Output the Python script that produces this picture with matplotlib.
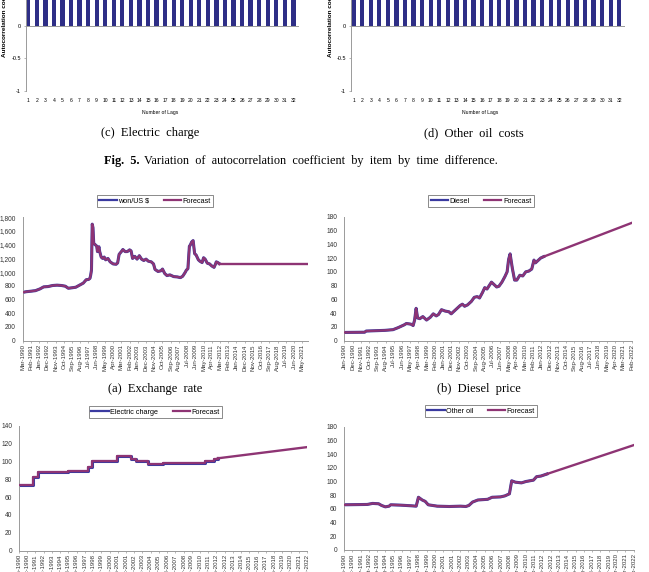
import matplotlib
matplotlib.use('Agg')
import matplotlib.pyplot as plt
from matplotlib.lines import Line2D

W, H = 649, 572
fig = plt.figure(figsize=(6.49, 5.72), dpi=100)

SANS = ['Liberation Sans', 'DejaVu Sans']
SERIF = ['Liberation Serif', 'DejaVu Serif']
MON = ['Jan', 'Feb', 'Mar', 'Apr', 'May', 'Jun', 'Jul', 'Aug', 'Sep', 'Oct', 'Nov', 'Dec']

# ---------------- data ----------------
lags = list(range(1, 33))
acf_electric = [0.99, 0.98, 0.97, 0.96, 0.95, 0.94, 0.93, 0.92, 0.91, 0.90, 0.89, 0.88,
                0.87, 0.86, 0.85, 0.84, 0.83, 0.82, 0.81, 0.80, 0.79, 0.78, 0.77, 0.76,
                0.75, 0.74, 0.73, 0.72, 0.71, 0.70, 0.69, 0.68]
acf_otheroil = [0.98, 0.96, 0.94, 0.92, 0.90, 0.89, 0.88, 0.87, 0.86, 0.85, 0.84, 0.83,
                0.82, 0.81, 0.80, 0.79, 0.78, 0.77, 0.76, 0.75, 0.74, 0.73, 0.72, 0.71,
                0.70, 0.69, 0.68, 0.67, 0.66, 0.65, 0.64, 0.63]

exr_dates = ['1990-03', '1990-08', '1991-02', '1991-08', '1992-02', '1992-07', '1993-01', '1993-07',
             '1994-01', '1994-07', '1994-12', '1995-04', '1995-09', '1996-02', '1996-07', '1996-12',
             '1997-04', '1997-07', '1997-09', '1997-10', '1997-11', '1997-12', '1998-01', '1998-02',
             '1998-04', '1998-06', '1998-07', '1998-09', '1998-10', '1998-12', '1999-02', '1999-04',
             '1999-06', '1999-09', '1999-12', '2000-04', '2000-08', '2000-10', '2000-12', '2001-03',
             '2001-05', '2001-08', '2001-11', '2002-02', '2002-04', '2002-06', '2002-09', '2002-12',
             '2003-03', '2003-06', '2003-09', '2003-12', '2004-03', '2004-07', '2004-10', '2004-12',
             '2005-04', '2005-08', '2005-10', '2006-01', '2006-04', '2006-08', '2007-01', '2007-06',
             '2007-10', '2008-01', '2008-04', '2008-06', '2008-08', '2008-10', '2008-11', '2009-01',
             '2009-03', '2009-05', '2009-07', '2009-10', '2009-12', '2010-03', '2010-05', '2010-07',
             '2010-10', '2011-01', '2011-04', '2011-07', '2011-09', '2011-10', '2011-12', '2012-02']
exr_values = [705, 715, 722, 730, 755, 785, 790, 805,
              810, 805, 795, 765, 772, 780, 810, 840,
              890, 893, 910, 960, 1030, 1700, 1650, 1420,
              1400, 1380, 1300, 1370, 1300, 1220, 1200, 1220,
              1180, 1200, 1150, 1120, 1115, 1135, 1260, 1300,
              1330, 1300, 1300, 1325, 1310, 1200, 1230, 1190,
              1240, 1190, 1170, 1190, 1160, 1150, 1120, 1040,
              1010, 1020, 1045, 980, 950, 960, 935, 930,
              920, 940, 990, 1030, 1050, 1380, 1390, 1440,
              1460, 1270, 1250, 1180, 1160, 1140, 1210, 1190,
              1130, 1120, 1090, 1070, 1120, 1150, 1140, 1125]
exr_fc_dates = ['2012-02', '2021-12']
exr_fc_values = [1125, 1125]
exr_ticklabels = ['Mar-1990', 'Feb-1991', 'Jan-1992', 'Dec-1992', 'Nov-1993', 'Oct-1994', 'Sep-1995',
                  'Aug-1996', 'Jul-1997', 'Jun-1998', 'May-1999', 'Apr-2000', 'Mar-2001', 'Feb-2002',
                  'Jan-2003', 'Dec-2003', 'Nov-2004', 'Oct-2005', 'Sep-2006', 'Aug-2007', 'Jul-2008',
                  'Jun-2009', 'May-2010', 'Apr-2011', 'Mar-2012', 'Feb-2013', 'Jan-2014', 'Dec-2014',
                  'Nov-2015', 'Oct-2016', 'Sep-2017', 'Aug-2018', 'Jul-2019', 'Jun-2020', 'May-2021']

diesel_dates = ['1990-01', '1992-04', '1992-06', '1994-07', '1995-06', '1996-01', '1996-09', '1996-12',
                '1997-06', '1997-09', '1997-11', '1998-01', '1998-03', '1998-06', '1998-10', '1999-03',
                '1999-08', '1999-12', '2000-04', '2000-07', '2000-11', '2001-04', '2001-09', '2001-12',
                '2002-04', '2002-08', '2002-12', '2003-03', '2003-06', '2003-10', '2004-03', '2004-07',
                '2004-11', '2005-02', '2005-06', '2005-09', '2005-12', '2006-03', '2006-06', '2006-09',
                '2007-01', '2007-04', '2007-08', '2007-12', '2008-03', '2008-05', '2008-07', '2008-10',
                '2009-01', '2009-04', '2009-08', '2009-12', '2010-04', '2010-08', '2010-12', '2011-03',
                '2011-05', '2011-08', '2011-12', '2012-04']
diesel_values = [12, 12.3, 14, 15, 16, 19, 23, 25,
                 24, 22, 30, 47, 33, 32, 35, 30,
                 34, 39, 36, 38, 45, 43, 42, 39,
                 43, 47, 51, 53, 50, 52, 57, 63,
                 64, 62, 70, 77, 75, 80, 85, 82,
                 78, 79, 85, 93, 100, 118, 126, 105,
                 88, 88, 95, 94, 100, 101, 104, 117,
                 113, 116, 120, 122]
diesel_fc_dates = ['2012-04', '2022-02']
diesel_fc_values = [122, 171]
ticklabels_2022 = ['Jan-1990', 'Dec-1990', 'Nov-1991', 'Oct-1992', 'Sep-1993', 'Aug-1994', 'Jul-1995',
                   'Jun-1996', 'May-1997', 'Apr-1998', 'Mar-1999', 'Feb-2000', 'Jan-2001', 'Dec-2001',
                   'Nov-2002', 'Oct-2003', 'Sep-2004', 'Aug-2005', 'Jul-2006', 'Jun-2007', 'May-2008',
                   'Apr-2009', 'Mar-2010', 'Feb-2011', 'Jan-2012', 'Dec-2012', 'Nov-2013', 'Oct-2014',
                   'Sep-2015', 'Aug-2016', 'Jul-2017', 'Jun-2018', 'May-2019', 'Apr-2020', 'Mar-2021',
                   'Feb-2022']

elec_dates = ['1990-01', '1991-08', '1992-03', '1995-06', '1997-09', '1998-03', '2000-12', '2002-07',
              '2003-01', '2004-06', '2006-02', '2010-10', '2011-10', '2012-03']
elec_values = [74, 83, 88, 89, 94, 100, 106, 103, 100, 97, 98.5, 101, 103, 103.5]
elec_fc_dates = ['2012-03', '2022-02']
elec_fc_values = [103.5, 116]

oil_dates = ['1990-01', '1992-08', '1993-03', '1993-11', '1994-03', '1994-08', '1995-01', '1995-03',
             '1996-04', '1997-07', '1998-01', '1998-04', '1998-09', '1999-01', '1999-05', '1999-11',
             '2000-05', '2001-09', '2002-12', '2003-07', '2003-11', '2004-04', '2004-11', '2005-12',
             '2006-06', '2007-05', '2007-11', '2008-05', '2008-08', '2009-01', '2009-09', '2010-03',
             '2011-01', '2011-05', '2011-11', '2012-07']
oil_values = [66, 66.5, 68, 67.5, 65, 63, 64, 66,
              65.5, 64.5, 64, 77, 73, 71, 66, 65,
              64, 63.5, 64, 63.5, 65, 70, 73, 74,
              77, 77.5, 79, 82, 101, 99, 98, 100,
              102, 107, 108, 111]
oil_fc_dates = ['2012-07', '2022-02']
oil_fc_values = [111, 153]

C_ACT = '#3A3AA0'
C_FC = '#8E3474'
C_BAR = '#2E2E86'
C_AX = '#9A9A9A'


def ax_px(l, r, t, b):
    return fig.add_axes([l / W, 1 - b / H, (r - l) / W, (b - t) / H])


def ftext(x, y, s, **kw):
    return fig.text(x / W, 1 - y / H, s, **kw)


def midx(s, base):
    y, m = map(int, s.split('-'))
    return (y - base[0]) * 12 + (m - base[1])


def lidx(lab, base):
    mon, yr = lab.split('-')
    return (int(yr) - base[0]) * 12 + MON.index(mon) + 1 - base[1]


# ---------------- autocorrelation bar charts ----------------
def bar_chart(l, r, vals, ylab_x, lagtext_x):
    ax = ax_px(l, r, -39.3, 90.7)
    ax.bar(lags, vals, width=0.5, color=C_BAR, zorder=2)
    ax.set_xlim(0.7, 32.6)
    ax.set_ylim(-1, 1)
    ax.axhline(0, color=C_AX, lw=0.7, zorder=3)
    for s in ['top', 'right', 'bottom']:
        ax.spines[s].set_visible(False)
    ax.spines['left'].set_color(C_AX)
    ax.spines['left'].set_linewidth(0.7)
    ax.set_yticks([-1, -0.5, 0, 0.5, 1])
    ax.set_yticklabels(['-1', '-0.5', '0', '0.5', '1'], fontsize=4, family=SANS)
    ax.tick_params(axis='y', length=1.5, width=0.5, color=C_AX, pad=2)
    ax.set_xticks(lags)
    ax.set_xticklabels([str(v) for v in lags], fontsize=3.6, family=SANS)
    ax.tick_params(axis='x', length=0, pad=5)
    ftext(lagtext_x, 112.5, 'Number of Lags', fontsize=3.6, family=SANS, ha='center', va='center')
    ftext(ylab_x, 57, 'Autocorrelation coefficient', fontsize=4.6, family=SANS,
          fontweight='bold', rotation=90, ha='center', va='bottom')


bar_chart(25.7, 298.5, acf_electric, 5, 160)
bar_chart(351, 624.5, acf_otheroil, 330, 480)

ftext(150, 133, '(c)  Electric  charge', fontsize=9, family=SERIF, ha='center', va='center')
ftext(474, 133, '(d)  Other  oil  costs', fontsize=9, family=SERIF, ha='center', va='center')

t1 = ftext(104, 161, 'Fig.  5.', fontsize=8.8, family=SERIF, fontweight='bold', ha='left', va='center')
fig.canvas.draw()
bb = t1.get_window_extent(renderer=fig.canvas.get_renderer())
ftext(bb.x1 + 5, 161, 'Variation  of  autocorrelation  coefficient  by  item  by  time  difference.',
      fontsize=8.8, family=SERIF, ha='left', va='center')


# ---------------- time-series charts ----------------
def line_chart(box, base, xmax, ymax, ystep, comma, hd, hv, fd, fv, tlabs, leg_c, name, steps=False):
    l, r, t, b = box
    ax = ax_px(l, r, t, b)
    hx = [midx(d, base) for d in hd]
    fx = [midx(d, base) for d in fd]
    ds = 'steps-post' if steps else 'default'
    ax.plot(hx, hv, color=C_ACT, lw=2.2, drawstyle=ds, solid_joinstyle='round', zorder=2)
    ax.plot(hx, hv, color=C_FC, lw=1.6, drawstyle=ds, solid_joinstyle='round', zorder=3)
    ax.plot(fx, fv, color=C_FC, lw=1.7, zorder=3)
    ax.set_xlim(0, xmax)
    ax.set_ylim(0, ymax)
    for s in ['top', 'right']:
        ax.spines[s].set_visible(False)
    for s in ['left', 'bottom']:
        ax.spines[s].set_color(C_AX)
        ax.spines[s].set_linewidth(0.7)
    yt = list(range(0, ymax + 1, ystep))
    ax.set_yticks(yt)
    ax.set_yticklabels([f'{v:,}' if comma else str(v) for v in yt], fontsize=4.8, family=SANS,
                       color='#333333')
    ax.tick_params(axis='y', length=0, pad=5)
    ax.set_xticks([lidx(s, base) for s in tlabs])
    ax.set_xticklabels(tlabs, rotation=90, fontsize=4.4, family=SANS, color='#333333')
    ax.tick_params(axis='x', length=1.5, width=0.5, color=C_AX, pad=1)
    handles = [Line2D([], [], color=C_ACT, lw=1.6), Line2D([], [], color=C_FC, lw=1.6)]
    leg = fig.legend(handles, [name, 'Forecast'], loc='center',
                     bbox_to_anchor=(leg_c[0] / W, 1 - leg_c[1] / H), ncol=2,
                     frameon=True, fancybox=False, edgecolor='#555555', handlelength=2.4,
                     handletextpad=0.2, columnspacing=2.0, borderpad=0.35,
                     prop={'family': SANS, 'size': 5.2})
    leg.get_frame().set_linewidth(0.6)
    return ax


line_chart((22.7, 307.5, 217.3, 340.7), (1990, 3), 381, 1800, 200, True,
           exr_dates, exr_values, exr_fc_dates, exr_fc_values, exr_ticklabels, (155, 201), 'won/US $')
line_chart((344.5, 631.7, 216.7, 340.7), (1990, 1), 385, 180, 20, False,
           diesel_dates, diesel_values, diesel_fc_dates, diesel_fc_values, ticklabels_2022, (481, 201),
           'Diesel')
line_chart((19, 307, 425.7, 550.7), (1990, 1), 385, 140, 20, False,
           elec_dates, elec_values, elec_fc_dates, elec_fc_values, ticklabels_2022, (155.6, 412),
           'Electric charge', steps=True)
line_chart((344, 633.5, 426.7, 550), (1990, 1), 385, 180, 20, False,
           oil_dates, oil_values, oil_fc_dates, oil_fc_values, ticklabels_2022, (481, 411), 'Other oil')

ftext(155, 389, '(a)  Exchange  rate', fontsize=9, family=SERIF, ha='center', va='center')
ftext(479, 389, '(b)  Diesel  price', fontsize=9, family=SERIF, ha='center', va='center')

fig.savefig('out.png', dpi=100)
